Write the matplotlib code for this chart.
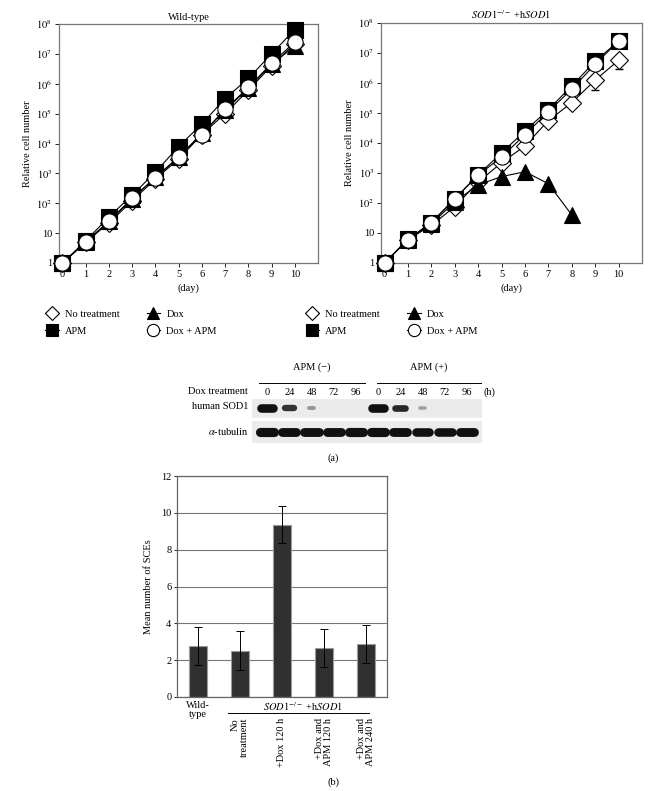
import numpy as np
import matplotlib
matplotlib.use("Agg")
import matplotlib.pyplot as plt

plt.rcParams['font.family'] = ['Liberation Serif', 'DejaVu Serif']
plt.rcParams['mathtext.fontset'] = 'stix'
plt.rcParams['font.size'] = 7.5

#--- growth curves ---#
days = np.arange(0, 11)
wt_none = [1, 5, 22, 120, 650, 3000, 2.0e4, 1.0e5, 6.0e5, 4.0e6, 2.2e7]
wt_apm = [1, 5.5, 35, 187, 1100, 7900, 4.5e4, 3.2e5, 1.5e6, 1.0e7, 6.5e7]
wt_dox = [1, 5, 25, 140, 750, 3500, 2.2e4, 1.3e5, 7.0e5, 4.5e6, 1.8e7]
wt_doxapm = [1, 5, 25, 150, 700, 3500, 2.0e4, 1.4e5, 7.5e5, 4.8e6, 2.5e7]

ko_none = [1, 6, 18, 75, 500, 2200, 8000, 5.6e4, 2.2e5, 1.25e6, 5.7e6]
ko_none_err = [0, 0, 0, 0, 0, 0, 0, 0, 0, 6.5e5, 2.7e6]
ko_apm = [1, 6.3, 22, 135, 870, 4700, 2.5e4, 1.3e5, 8.0e5, 5.3e6, 2.5e7]
ko_dox_days = np.arange(0, 9)
ko_dox = [1, 6, 20, 110, 400, 760, 1100, 440, 40]
ko_doxapm = [1, 6, 22, 140, 850, 3400, 1.9e4, 1.1e5, 6.3e5, 4.2e6, 2.5e7]

#--- western blot ---#
lane_hours = ["0", "24", "48", "72", "96", "0", "24", "48", "72", "96"]
sod1_signal = [1.0, 0.6, 0.15, 0, 0, 1.0, 0.65, 0.1, 0, 0]
tubulin_signal = [1.0, 0.95, 0.95, 0.95, 1.0, 1.0, 0.95, 0.9, 0.9, 0.95]

#--- SCE bars ---#
sce_values = [2.79, 2.52, 9.36, 2.68, 2.88]
sce_err = [1.03, 1.05, 1.0, 1.03, 1.03]
sce_labels = ["No\ntreatment", "+Dox 120 h", "+Dox and\nAPM 120 h", "+Dox and\nAPM 240 h"]

W, H = 651, 791
fig = plt.figure(figsize=(W / 100, H / 100), dpi=100)


def box(x0, y0, x1, y1):
    # pixel box (top-left origin) -> figure fraction
    return [x0 / W, 1 - y1 / H, (x1 - x0) / W, (y1 - y0) / H]


def style_growth(ax, title):
    ax.set_yscale('log')
    ax.set_ylim(1, 1e8)
    ax.set_xlim(-0.15, 11)
    ax.set_xticks(range(0, 11))
    ax.set_yticks([10 ** i for i in range(9)])
    ax.set_yticklabels(["1", "10"] + [r"$10^{%d}$" % i for i in range(2, 9)])
    ax.minorticks_off()
    ax.tick_params(labelsize=7.5, length=3, width=0.6, pad=2)
    for s in ax.spines.values():
        s.set_color('#777777')
        s.set_linewidth(0.9)
    ax.set_xlabel("(day)", fontsize=7.5, labelpad=3)
    ax.set_ylabel("Relative cell number", fontsize=7.5, labelpad=3)
    ax.set_title(title, fontsize=7.5, pad=3)


kw = dict(color='black', lw=0.8, markeredgecolor='black', markeredgewidth=0.8, clip_on=False)
leg_kw = dict(ncol=2, frameon=False, loc='upper left', handlelength=1.3, columnspacing=2.6,
              labelspacing=0.75, handletextpad=0.6, fontsize=7.5, markerscale=0.8)

ax1 = fig.add_axes(box(59, 24, 318, 263))
l1, = ax1.plot(days, wt_none, marker='D', markerfacecolor='white', markersize=9, zorder=3, **kw,
               label="No treatment")
l2, = ax1.plot(days, wt_apm, marker='s', markerfacecolor='black', markersize=11, zorder=5, **kw, label="APM")
l3, = ax1.plot(days, wt_dox, marker='^', markerfacecolor='black', markersize=11, zorder=4, **kw, label="Dox")
l4, = ax1.plot(days, wt_doxapm, marker='o', markerfacecolor='white', markersize=11, zorder=6, **kw,
               label="Dox + APM")
style_growth(ax1, "Wild-type")
ax1.legend(handles=[l1, l2, l3, l4], bbox_to_anchor=(-0.09, -0.155), **leg_kw)

ax2 = fig.add_axes(box(381, 23, 642, 263))
ax2.errorbar(days, ko_none, yerr=[ko_none_err, np.zeros(len(days))], fmt='none',
             ecolor='black', elinewidth=0.7, capsize=3, zorder=2)
m1, = ax2.plot(days, ko_none, marker='D', markerfacecolor='white', markersize=9, zorder=3, **kw,
               label="No treatment")
m2, = ax2.plot(days, ko_apm, marker='s', markerfacecolor='black', markersize=11, zorder=5, **kw, label="APM")
m3, = ax2.plot(ko_dox_days, ko_dox, marker='^', markerfacecolor='black', markersize=11, zorder=4, **kw,
               label="Dox")
m4, = ax2.plot(days, ko_doxapm, marker='o', markerfacecolor='white', markersize=11, zorder=6, **kw,
               label="Dox + APM")
style_growth(ax2, r"$\mathit{SOD1}^{-/-}$ +h$\mathit{SOD1}$")
ax2.legend(handles=[m1, m2, m3, m4], bbox_to_anchor=(-0.325, -0.155), **leg_kw)

#--- blot panels ---#
axs = fig.add_axes(box(252, 399, 482, 418))
axt = fig.add_axes(box(252, 421, 482, 443))
for ax, sig, lw, half in [(axs, sod1_signal, 6.2, 0.28), (axt, tubulin_signal, 6.6, 0.33)]:
    ax.set_facecolor('#ebebeb')
    ax.set_xlim(-0.68, 9.68)
    ax.set_ylim(0, 1)
    ax.set_xticks([])
    ax.set_yticks([])
    for s in ax.spines.values():
        s.set_visible(False)
    for i, v in enumerate(sig):
        if v <= 0:
            continue
        w = half * (0.35 + 0.65 * v)
        ax.plot([i - w, i + w], [0.5, 0.5], color='#111111', lw=lw * (0.35 + 0.65 * v),
                solid_capstyle='round', alpha=min(1, 0.25 + v))

tr = axs.get_xaxis_transform()
for i, lab in enumerate(lane_hours):
    axs.text(i, 1.35, lab, transform=tr, ha='center', va='center', fontsize=7.5)
axs.text(10.0, 1.35, "(h)", transform=tr, ha='center', va='center', fontsize=7.5, clip_on=False)
for (a, b), lab in [((-0.35, 4.4), "APM (\u2212)"), ((4.95, 9.65), "APM (+)")]:
    axs.plot([a, b], [1.85, 1.85], transform=tr, color='black', lw=0.7, clip_on=False)
    axs.text((a + b) / 2, 2.7, lab, transform=tr, ha='center', va='center', fontsize=7.5)
fig.text(248 / W, 1 - 392 / H, "Dox treatment", ha='right', va='center', fontsize=7.5)
fig.text(248 / W, 1 - 407 / H, "human SOD1", ha='right', va='center', fontsize=7.5)
fig.text(248 / W, 1 - 431 / H, r"$\alpha$-tubulin", ha='right', va='center', fontsize=7.5)
fig.text(333 / W, 1 - 458 / H, "(a)", ha='center', va='center', fontsize=7.5)

#--- SCE bar chart ---#
ax3 = fig.add_axes(box(177, 476, 387, 697))
xb = np.arange(len(sce_values))
ax3.set_axisbelow(True)
ax3.yaxis.grid(True, color='#777777', lw=0.8)
ax3.bar(xb, sce_values, width=0.42, color='#303030', edgecolor='#9a9a9a', lw=0.8)
ax3.errorbar(xb, sce_values, yerr=sce_err, fmt='none', ecolor='black', elinewidth=0.7, capsize=3,
             capthick=0.7)
ax3.set_xlim(-0.5, 4.5)
ax3.set_ylim(0, 12)
ax3.set_yticks(range(0, 13, 2))
ax3.set_xticks([])
ax3.tick_params(labelsize=7.5, length=2, width=0.6, pad=2)
for s in ax3.spines.values():
    s.set_color('#666666')
    s.set_linewidth(0.9)
ax3.set_ylabel("Mean number of SCEs", fontsize=7.5, labelpad=6)

tb = ax3.get_xaxis_transform()
ax3.text(0, -0.02, "Wild-\ntype", transform=tb, ha='center', va='top', fontsize=7.5, linespacing=1.0)
ax3.text(2.5, -0.045, r"$\mathit{SOD1}^{-/-}$ +h$\mathit{SOD1}$", transform=tb, ha='center', va='center',
         fontsize=7.5)
ax3.plot([0.72, 4.08], [-0.073, -0.073], transform=tb, color='black', lw=0.7, clip_on=False)
for i, lab in enumerate(sce_labels):
    ax3.text(i + 1, -0.095, lab, transform=tb, ha='center', va='top', rotation=90,
             multialignment='right', fontsize=7.5, linespacing=1.0)
fig.text(333 / W, 1 - 782 / H, "(b)", ha='center', va='center', fontsize=7.5)

fig.savefig("out.png", dpi=100)
